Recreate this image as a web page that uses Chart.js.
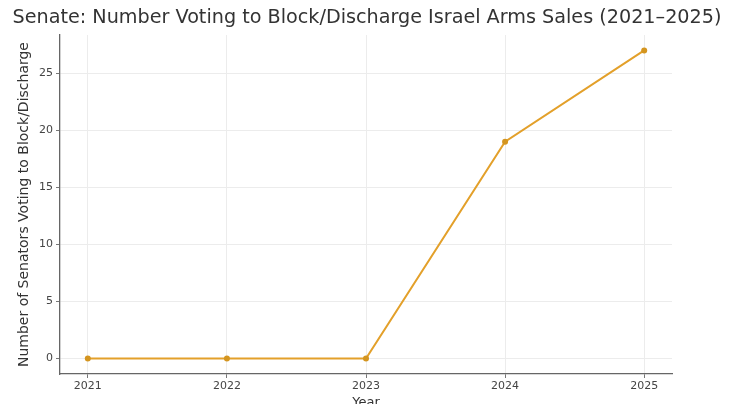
<!DOCTYPE html>
<html>
<head>
<meta charset="utf-8">
<script src="https://cdn.jsdelivr.net/npm/chart.js@4/dist/chart.umd.min.js"></script>
<style>
  html, body { margin: 0; padding: 0; background: #fff; }
  #wrap { width: 734px; height: 404px; }
</style>
</head>
<body>
<div id="wrap"><canvas id="chart" width="734" height="404"></canvas></div>
<script>
const years = [2021, 2022, 2023, 2024, 2025];
const senatorsVoting = [0, 0, 0, 19, 27];
const yTicks = [0, 5, 10, 15, 20, 25];

const font = "'DejaVu Sans', sans-serif";
const ctx = document.getElementById("chart").getContext("2d");

new Chart(ctx, {
  type: "line",
  data: {
    datasets: [
      {
        label: "Senators",
        data: years.map((y, i) => ({ x: y, y: senatorsVoting[i] })),
        borderColor: "#e3a02a",
        backgroundColor: "#d4951f",
        borderWidth: 2,
        pointRadius: 3,
        pointBorderWidth: 0,
        tension: 0,
      },
    ],
  },
  options: {
    responsive: false,
    animation: false,
    // negative bottom padding lets "Year" get clipped like in the original
    layout: { padding: { left: 0, right: 0, top: 0, bottom: -6 } },
    plugins: {
      legend: { display: false },
      tooltip: { enabled: false },
      title: {
        display: true,
        text: "Senate: Number Voting to Block/Discharge Israel Arms Sales (2021–2025)",
        color: "#333",
        font: { family: font, size: 19.2, weight: "normal" },
        padding: { top: 6, bottom: 6 },
      },
    },
    scales: {
      x: {
        type: "linear",
        min: 2020.8,
        max: 2025.2,
        afterBuildTicks: (s) => { s.ticks = years.map((v) => ({ value: v })); },
        afterFit: (s) => { s.height = 36; },
        grid: { color: "#ececec", tickColor: "#777", tickLength: 4 },
        border: { color: "#666", width: 1.3 },
        ticks: {
          color: "#444",
          font: { family: font, size: 11 },
          padding: 2,
          maxRotation: 0,
          callback: (v) => String(v),
        },
        title: {
          display: true,
          text: "Year",
          color: "#333",
          font: { family: font, size: 13 },
          padding: { top: 0, bottom: 0 },
        },
      },
      y: {
        min: -1.35,
        max: 28.35,
        afterBuildTicks: (s) => { s.ticks = yTicks.map((v) => ({ value: v })); },
        afterFit: (s) => { s.width = 60; },
        grid: { color: "#ececec", tickColor: "#777", tickLength: 4 },
        border: { color: "#666", width: 1.3 },
        ticks: {
          color: "#444",
          font: { family: font, size: 11 },
          padding: 3,
        },
        title: {
          display: true,
          text: "Number of Senators Voting to Block/Discharge",
          color: "#333",
          font: { family: font, size: 14 },
          padding: { top: 16, bottom: 0 },
        },
      },
      // empty right-hand axis, only reserves the blank strip on the right
      spacer: {
        position: "right",
        afterFit: (s) => { s.width = 62; },
        grid: { display: false },
        border: { display: false },
        ticks: { display: false },
      },
    },
  },
});
</script>
</body>
</html>
